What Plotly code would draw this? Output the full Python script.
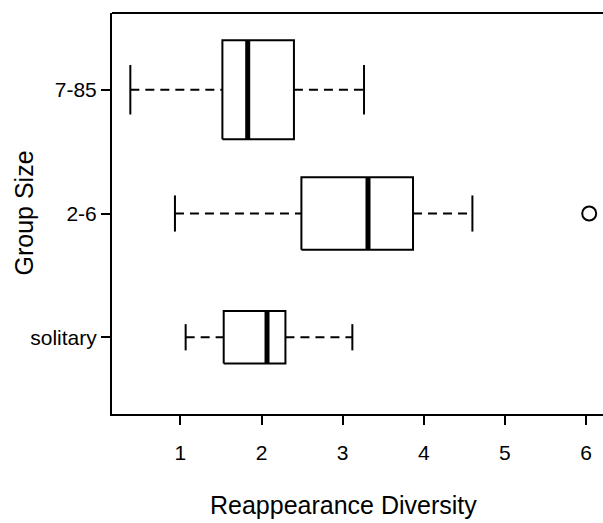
import plotly.graph_objects as go

# Reappearance diversity by group size: five-number summaries per group
groups = ["solitary", "2-6", "7-85"]
whisker_low = [1.065, 0.933, 0.383]
quart1 = [1.534, 2.492, 1.518]
medians = [2.068, 3.313, 1.830]
quart3 = [2.295, 3.868, 2.400]
whisker_high = [3.120, 4.600, 3.264]
outlier_group = ["2-6"]
outlier_value = [6.04]

# relative box heights (variable width boxes)
half_heights = [0.212, 0.292, 0.400]

black = "#000000"
fig = go.Figure()

box_x, box_y = [], []
med_x, med_y = [], []
wh_x, wh_y = [], []
cap_x, cap_y = [], []
for i, g in enumerate(groups):
    yc = i + 1
    h = half_heights[i]
    box_x += [quart1[i], quart3[i], quart3[i], quart1[i], quart1[i], None]
    box_y += [yc - h, yc - h, yc + h, yc + h, yc - h, None]
    med_x += [medians[i], medians[i], None]
    med_y += [yc - h, yc + h, None]
    wh_x += [whisker_low[i], quart1[i], None, quart3[i], whisker_high[i], None]
    wh_y += [yc, yc, None, yc, yc, None]
    for w in (whisker_low[i], whisker_high[i]):
        cap_x += [w, w, None]
        cap_y += [yc - h / 2, yc + h / 2, None]

fig.add_trace(go.Scatter(x=wh_x, y=wh_y, mode="lines",
                         line=dict(color=black, width=2, dash="9px,6px"),
                         hoverinfo="skip"))
fig.add_trace(go.Scatter(x=cap_x, y=cap_y, mode="lines",
                         line=dict(color=black, width=2), hoverinfo="skip"))
fig.add_trace(go.Scatter(x=box_x, y=box_y, mode="lines",
                         line=dict(color=black, width=2), hoverinfo="skip"))
fig.add_trace(go.Scatter(x=med_x, y=med_y, mode="lines",
                         line=dict(color=black, width=5), hoverinfo="skip"))
fig.add_trace(go.Scatter(
    x=outlier_value,
    y=[groups.index(g) + 1 for g in outlier_group],
    mode="markers",
    marker=dict(symbol="circle-open", size=14, color=black, line=dict(width=2)),
    hoverinfo="skip"))

font_family = "Liberation Sans, Arial, sans-serif"
fig.update_layout(
    width=603, height=523,
    margin=dict(l=112, r=0, t=13, b=109),
    paper_bgcolor="white", plot_bgcolor="white",
    showlegend=False,
    font=dict(family=font_family, color=black, size=21),
    xaxis=dict(range=[0.157, 6.21], tickvals=[1, 2, 3, 4, 5, 6],
               ticks="outside", ticklen=9, tickwidth=2, tickcolor=black,
               ticklabelstandoff=10,
               showline=True, linecolor=black, linewidth=2, mirror=False,
               showgrid=False, zeroline=False, fixedrange=True,
               tickfont=dict(size=21)),
    yaxis=dict(range=[0.38, 3.62], tickvals=[1, 2, 3], ticktext=groups,
               ticks="outside", ticklen=9, tickwidth=2, tickcolor=black,
               showline=True, linecolor=black, linewidth=2, mirror=False,
               showgrid=False, zeroline=False, fixedrange=True,
               tickfont=dict(size=21)),
    shapes=[dict(type="line", xref="paper", yref="paper", x0=0, x1=1, y0=1, y1=1,
                 line=dict(color=black, width=2))],
    annotations=[
        dict(text="Reappearance Diversity", xref="paper", yref="paper",
             x=0.747, y=0, yshift=-91, yanchor="middle", showarrow=False,
             font=dict(size=25)),
        dict(text="Group Size", xref="paper", yref="paper", textangle=-90,
             x=0, xshift=-89, y=0.5, xanchor="center", showarrow=False,
             font=dict(size=25)),
    ],
)

fig.write_html("out.html")
